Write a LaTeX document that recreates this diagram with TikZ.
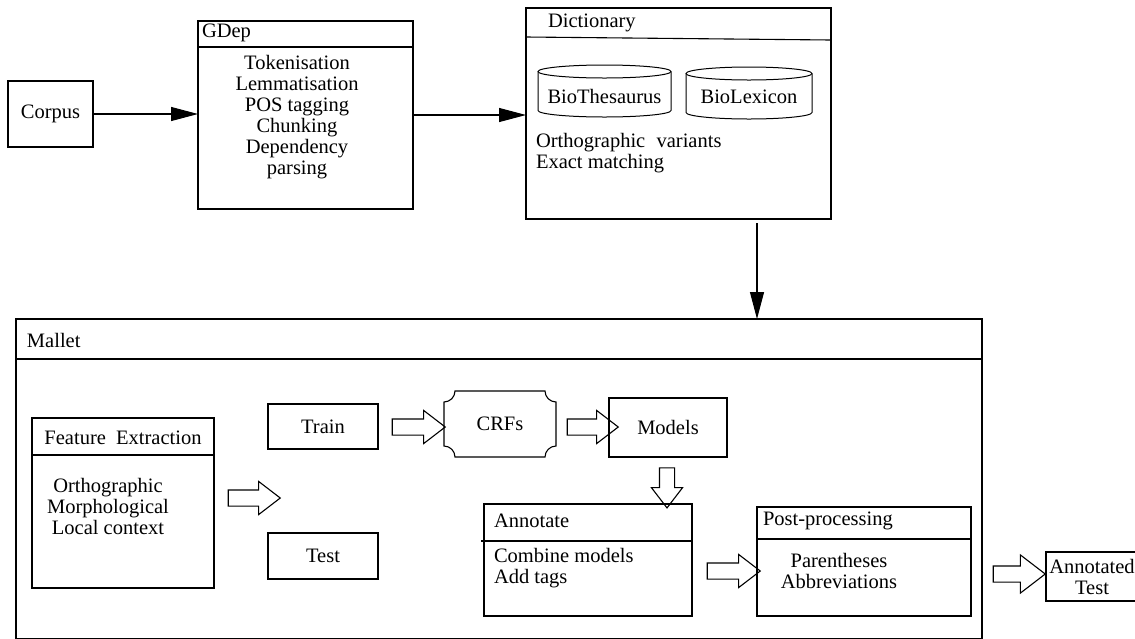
\documentclass[tikz,border=0pt]{standalone}
\usepackage{fontspec}
\setmainfont{Liberation Serif}
\usetikzlibrary{arrows.meta,shapes.arrows,calc}
\begin{document}
\begin{tikzpicture}[x=1pt,y=-1pt,
  every node/.style={font=\fontsize{20.5}{21}\selectfont, inner sep=0pt, outer sep=0pt},
  box/.style={draw, line width=1.1pt, anchor=north west, inner sep=0pt, outer sep=0pt},
  ttl/.style={anchor=west},
  ln/.style={line width=1.1pt},
  arr/.style={line width=1.1pt, -{Triangle[length=27pt,width=14pt]}},
  blk/.style={single arrow, draw, line width=1.1pt, minimum height=52pt,
    single arrow head extend=8.5pt, single arrow tip angle=75,
    inner xsep=0pt, inner ysep=7.5pt, anchor=center},
  cyl/.style={line width=1pt}
]
\useasboundingbox (0,0) rectangle (1135,638);

% Corpus
\node[box, minimum width=85pt, minimum height=66pt] (corpus) at (8,81) {};
\node (corpusT) at (corpus.center) {Corpus};

% GDep
\node[box, minimum width=215pt, minimum height=188pt] (gdep) at (198,21) {};
\draw[ln] (198,47) -- (413,47);
\node[ttl] (gdepT) at (202,33) {GDep};
\node[align=center] (gdepI) at (297,117.5) {Tokenisation\\Lemmatisation\\POS tagging\\Chunking\\Dependency\\parsing};

% Dictionary
\node[box, minimum width=305pt, minimum height=211pt] (dict) at (526,8) {};
\draw[ln] (526,37) -- (831,40);
\node[ttl] (dictT) at (548,23) {Dictionary};
\node (bt) at (604.5,96) {BioThesaurus};
\draw[cyl] (604.5,71.5) ellipse [x radius=66.5pt, y radius=6.5pt];
\draw[cyl] (538,71.5) -- (538,110.5) arc [start angle=180, end angle=360, x radius=66.5pt, y radius=6.5pt] -- (671,71.5);
\node (bl) at (749,97) {BioLexicon};
\draw[cyl] (749,73.5) ellipse [x radius=63pt, y radius=6.5pt];
\draw[cyl] (686,73.5) -- (686,112.5) arc [start angle=180, end angle=360, x radius=63pt, y radius=6.5pt] -- (812,73.5);
\node[align=left, anchor=base west] (dictI) at (536,168) {Orthographic\hspace{0.3em} variants\\Exact matching};

% top arrows
\draw[arr] (corpus.east) -- (corpus.east -| gdep.west);
\draw[arr] (gdep.east) -- (gdep.east -| dict.west);

% Mallet
\node[box, minimum width=966pt, minimum height=320pt] (mallet) at (16,319) {};
\draw[ln] (16,359) -- (982,359);
\node[ttl] (malletT) at (27,340) {Mallet};

\coordinate (dtap) at ([xshift=78.5pt,yshift=-4pt]dict.south);
\draw[arr] (dtap) -- (dtap |- mallet.north);

% Feature Extraction
\node[box, minimum width=182pt, minimum height=170pt] (fe) at (32,418) {};
\draw[ln] (32,455) -- (214,455);
\node (feT) at (123,438) {Feature\hspace{0.25em} Extraction};
\node[align=center] (feI) at (108,506.5) {Orthographic\\Morphological\\Local context};

% Train / Test
\node[box, minimum width=110pt, minimum height=45pt] (train) at (268,404) {};
\node (trainT) at (train.center) {Train};
\node[box, minimum width=110pt, minimum height=46pt] (test) at (268,533) {};
\node (testT) at (test.center) {Test};

% CRFs
\node[minimum width=112pt, minimum height=66pt] (crfs) at (500,424) {CRFs};
\draw[ln] (455,391) -- (545,391) .. controls (545,397) and (550,402) .. (556,402)
  -- (556,446) .. controls (550,446) and (545,451) .. (545,457)
  -- (455,457) .. controls (455,451) and (450,446) .. (444,446)
  -- (444,402) .. controls (450,402) and (455,397) .. (455,391) -- cycle;

% Models
\node[box, minimum width=118pt, minimum height=59pt] (models) at (609,398) {};
\node (modelsT) at (models.center) {Models};

% Annotate
\node[box, minimum width=208pt, minimum height=112pt] (annot) at (484,504) {};
\draw[ln] (481,541) -- (692,541);
\node[ttl] (annotT) at (494,521) {Annotate};
\node[align=left, anchor=base west] (annotI) at (494,583) {Combine models\\Add tags};

% Post-processing
\node[box, minimum width=214pt, minimum height=109pt] (post) at (757,507) {};
\draw[ln] (757,539) -- (971,539);
\node[ttl] (postT) at (763,521) {Post-processing};
\node[align=center] (postI) at (839,571) {Parentheses\\Abbreviations};

% Annotated Test
\node[box, minimum width=94pt, minimum height=49pt] (annd) at (1046,552) {};
\node[align=center] (anndT) at (1092,577) {Annotated\\Test};

% block arrows
\node[blk] (b1) at (249,498) {};
\node[blk, minimum height=53pt] (b2) at (413.5,427) {};
\node[blk, minimum height=51pt] (b3) at (587.5,427) {};
\node[blk, rotate=-90, minimum height=40pt, inner ysep=7pt, single arrow head extend=8pt] (b4) at (667,483) {};
\node[blk, minimum height=53pt] (b5) at (728.5,571) {};
\node[blk, minimum height=52pt, single arrow head extend=11pt] (b6) at (1014,574) {};
\end{tikzpicture}
\end{document}
